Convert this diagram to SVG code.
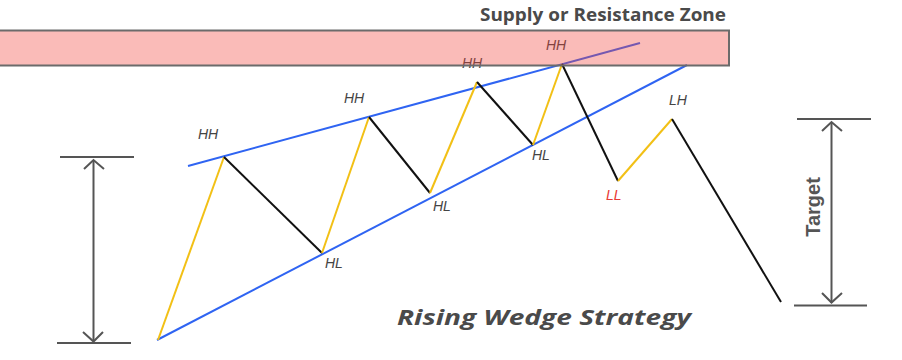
<svg xmlns="http://www.w3.org/2000/svg" width="902" height="360" viewBox="0 0 902 360">
<style>
.blue{stroke:#2f64f2;stroke-width:2;fill:none}
.up{stroke:#f2c015;stroke-width:2;fill:none}
.down{stroke:#111;stroke-width:2;fill:none}
.dim{stroke:#555;stroke-width:2;fill:none}
.lbl{font-family:"Liberation Sans",Arial,sans-serif;font-style:italic;font-size:14px;fill:#444}
.title{font-family:"Open Sans","DejaVu Sans",sans-serif;font-weight:bold;fill:#4a4a4a}
</style>
<rect width="902" height="360" fill="#fff"/>
<g id="connectors">
<line class="blue" x1="188" y1="166" x2="640" y2="43"/>
<line class="blue" x1="157" y1="340" x2="687" y2="65"/>
<polyline class="up" points="158,340 224,157"/>
<polyline class="down" points="224,157 322,253"/>
<polyline class="up" points="322,253 369,117"/>
<polyline class="down" points="369,117 430,193"/>
<polyline class="up" points="430,193 477,82"/>
<polyline class="down" points="477,82 533,145"/>
<polyline class="up" points="533,145 562,64"/>
<polyline class="down" points="562,64 618,181"/>
<polyline class="up" points="618,181 672,119"/>
<polyline class="down" points="672,119 781,302"/>
</g>
<g id="labels">
<text class="lbl" x="198" y="139">HH</text>
<text class="lbl" x="344" y="103">HH</text>
<text class="lbl" x="462" y="68">HH</text>
<text class="lbl" x="546" y="50">HH</text>
<text class="lbl" x="325" y="268">HL</text>
<text class="lbl" x="433" y="211">HL</text>
<text class="lbl" x="532" y="160">HL</text>
<text class="lbl" x="606" y="200" fill="#e83a35" style="fill:#e83a35">LL</text>
<text class="lbl" x="669" y="105">LH</text>
</g>
<g id="zone">
<rect x="-2" y="30.5" width="731" height="35" fill="#f0423a" fill-opacity="0.36"/>
<rect x="-2" y="30.5" width="731" height="35" fill="none" stroke="#6b6b6b" stroke-width="2"/>
<text class="title" x="726" y="21" font-size="17" text-anchor="end" textLength="246" lengthAdjust="spacingAndGlyphs">Supply or Resistance Zone</text>
</g>
<g id="left-measure">
<line class="dim" x1="60" y1="157" x2="134" y2="157"/>
<line class="dim" x1="57" y1="343" x2="131" y2="343"/>
<line class="dim" x1="93.5" y1="160" x2="93.5" y2="341"/>
<polyline class="dim" points="84,169 93.5,160 104,169"/>
<polyline class="dim" points="83,332 93.5,341.5 103,332"/>
</g>
<g id="target-measure">
<line class="dim" x1="797" y1="119" x2="871" y2="119"/>
<line class="dim" x1="794" y1="305.5" x2="867" y2="305.5"/>
<line class="dim" x1="831.5" y1="122" x2="831.5" y2="303"/>
<polyline class="dim" points="822,131 831.5,122 842,131"/>
<polyline class="dim" points="822,293 831.5,302.5 842,293"/>
<text x="820" y="207" transform="rotate(-90 820 207)" text-anchor="middle" font-family="'Liberation Sans',Arial,sans-serif" font-weight="bold" font-size="20" fill="#555">Target</text>
</g>
<g id="caption">
<text class="title" x="397" y="325" font-size="22" font-style="italic" textLength="294" lengthAdjust="spacingAndGlyphs">Rising Wedge Strategy</text>
</g>
</svg>
